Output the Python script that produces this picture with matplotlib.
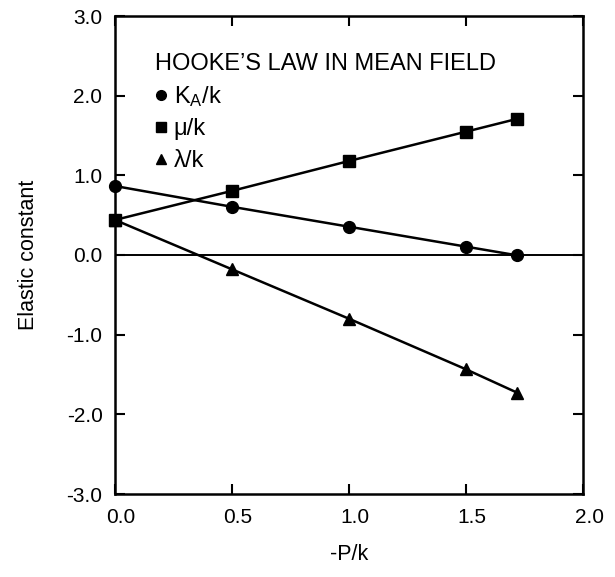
import numpy as np
import matplotlib; matplotlib.use('Agg')
import matplotlib.pyplot as plt
from matplotlib.lines import Line2D
from matplotlib.ticker import FormatStrFormatter
import matplotlib.transforms as mtrans

plt.rcParams['font.family'] = ['Liberation Sans', 'DejaVu Sans']
plt.rcParams['mathtext.fontset'] = 'custom'
plt.rcParams['mathtext.rm'] = 'Liberation Sans'
plt.rcParams['mathtext.it'] = 'Liberation Sans'
plt.rcParams['axes.unicode_minus'] = False

# data
p = [0.0, 0.5, 1.0, 1.5, 1.72]
ka = [0.866, 0.605, 0.355, 0.105, -0.005]
mu = [0.44, 0.805, 1.18, 1.548, 1.71]
lam = [0.44, -0.18, -0.80, -1.435, -1.73]

labels = ['K$_{\\mathrm{A}}$/k', '\u03bc/k', '\u03bb/k']
markers = ['o', 's', '^']
sizes = [8.5, 8.5, 8]
leg_sizes = [7, 6.5, 6.5]

fig = plt.figure(figsize=(6.15, 5.77), dpi=100)
ax = fig.add_axes([115/615, 1-494/577, 468/615, 478/577])

for y, m, s in zip([ka, mu, lam], markers, sizes):
    ax.plot(p, y, color='black', lw=1.8, marker=m, ms=s, clip_on=False, zorder=3)
ax.axhline(0, color='black', lw=1.4, zorder=2)

ax.set_xlim(0, 2.0); ax.set_ylim(-3.0, 3.0)
ax.set_xticks(np.arange(0, 2.01, 0.5)); ax.set_yticks(np.arange(-3, 3.01, 1.0))
ax.xaxis.set_major_formatter(FormatStrFormatter('%.1f'))
ax.yaxis.set_major_formatter(FormatStrFormatter('%.1f'))
ax.tick_params(direction='in', length=7, width=1.5, top=True, right=True,
               labelsize=15, colors='black')
ax.tick_params(axis='x', pad=10)
ax.tick_params(axis='y', pad=9)
for l in ax.get_xticklabels():
    l.set_transform(l.get_transform() + mtrans.ScaledTranslation(0.06, 0, fig.dpi_scale_trans))
ax.spines[:].set_linewidth(1.8)

ax.set_xlabel('-P/k', fontsize=15.5, labelpad=12)
ax.set_ylabel('Elastic constant', fontsize=15.5, labelpad=20)

handles = [Line2D([], [], color='black', marker=m, ls='none', ms=s) for m, s in zip(markers, leg_sizes)]
leg = ax.legend(handles, labels, title="HOOKE\u2019S LAW IN MEAN FIELD", loc='upper left',
                bbox_to_anchor=(0.05, 0.958), frameon=False, fontsize=17,
                title_fontsize=17, handlelength=0.5, handletextpad=0.3,
                labelspacing=0.4, alignment='left', borderaxespad=0.3)

fig.savefig('out.png', dpi=100, facecolor='white')
